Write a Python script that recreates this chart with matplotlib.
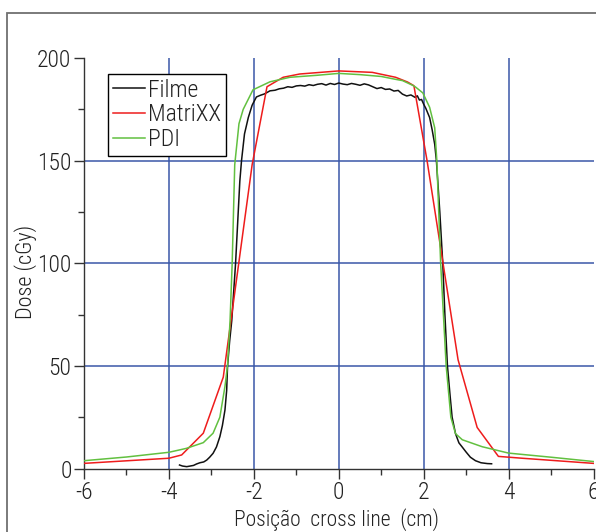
import matplotlib
matplotlib.use("Agg")
import matplotlib.pyplot as plt
from matplotlib.patches import Rectangle
from matplotlib.ticker import MultipleLocator

plt.rcParams['font.family'] = ['Roboto Condensed', 'DejaVu Sans']
plt.rcParams['font.weight'] = 'light'
plt.rcParams['axes.labelweight'] = 'light'

# ---- data ----
filme_x = [-3.75, -3.68, -3.58, -3.50, -3.42, -3.35, -3.27, -3.18, -3.11, -3.04, -2.96, -2.88,
           -2.80, -2.74, -2.68, -2.64, -2.62, -2.57, -2.52, -2.43, -2.33, -2.29, -2.22, -2.13,
           -2.04, -1.94, -1.85, -1.75, -1.62, -1.5, -1.4, -1.3, -1.2, -1.1, -1.0, -0.9, -0.8,
           -0.7, -0.6, -0.5, -0.4, -0.3, -0.2, -0.1, 0.0, 0.1, 0.2, 0.3, 0.4, 0.5, 0.6, 0.7,
           0.8, 0.9, 1.0, 1.1, 1.2, 1.3, 1.4, 1.5, 1.6, 1.7, 1.8, 1.85, 1.9, 1.95, 2.0, 2.05,
           2.1, 2.14, 2.2, 2.26, 2.3, 2.38, 2.45, 2.5, 2.56, 2.62, 2.67, 2.75, 2.83, 2.91, 3.0,
           3.1, 3.22, 3.35, 3.5, 3.6]
filme_y = [1.7, 1.2, 0.9, 1.2, 1.5, 2.2, 2.8, 3.2, 4.1, 5.5, 7.4, 10.5,
           15.5, 21, 28.5, 38, 49.6, 62, 72, 100, 140, 150, 163, 171,
           177, 181, 181.8, 182.5, 184, 184.3, 185, 185.3, 186, 185.7, 186.4, 186.6, 186.3,
           187.0, 186.6, 187.2, 187.5, 186.8, 187.6, 187.1, 187.8, 187.3, 187.0, 187.6, 187.2, 186.7, 187.4, 186.9,
           186.0, 185.1, 185.6, 184.7, 184.9, 183.9, 184.2, 182.4, 181.5, 182.0, 180.8, 181.6, 179.5, 179.8, 177.5, 175.5,
           173, 171, 165, 158, 150, 125, 100, 75, 50, 36, 25, 17, 12.5, 10.4, 8,
           5.5, 3.8, 2.8, 2.4, 2.3]

matrixx_x = [-6.0, -4.0, -3.7, -3.19, -2.72, -2.04, -1.69, -1.31, -0.92, 0.0, 0.79, 1.34, 1.62,
             1.77, 2.08, 2.81, 3.26, 3.76, 4.32, 6.0]
matrixx_y = [2.5, 5.0, 6.6, 17.2, 44.5, 148, 186, 190.6, 192.2, 193.7, 193.0, 190.6, 188.3,
             186.5, 150, 53, 20, 5.9, 5.0, 2.5]

pdi_x = [-6.0, -5.0, -4.0, -3.59, -3.19, -2.96, -2.8, -2.68, -2.62, -2.56, -2.51, -2.45, -2.35,
         -2.25, -2.02, -1.62, -1.15, -0.5, 0.0, 0.5, 1.0, 1.34, 1.5, 1.73, 1.8, 1.98, 2.14, 2.26,
         2.31, 2.40, 2.53, 2.64, 2.75, 2.91, 3.38, 4.0, 5.0, 6.0]
pdi_y = [3.8, 5.6, 7.9, 9.8, 12.6, 17.2, 25, 40, 50, 72, 100, 148, 168,
         175, 184.5, 188.4, 190.6, 191.6, 192.5, 191.9, 191.0, 189.6, 189.0, 186.8, 186, 183, 176, 166,
         150, 100, 50, 25, 17, 14, 10.6, 7.5, 5.5, 3.4]

x_ticks = [-6, -4, -2, 0, 2, 4, 6]
y_ticks = [0, 50, 100, 150, 200]
grid_x = [-4, -2, 0, 2, 4]
grid_y = [50, 100, 150]

# ---- figure ----
W, H = 596, 532
fig = plt.figure(figsize=(W / 100, H / 100), dpi=100)
ax = fig.add_axes([84 / W, 1 - 468.5 / H, (593.5 - 84) / W, (468.5 - 58) / H])

# outer frame (partly outside the picture)
fig.patches.append(Rectangle((7 / W, -0.2), 1.3, 0.2 + (1 - 13 / H), transform=fig.transFigure,
                             fill=False, edgecolor='#707070', linewidth=1.3, clip_on=False))

grid_col = '#3a57a8'
for gx in grid_x:
    ax.axvline(gx, color=grid_col, lw=1.1, zorder=1)
for gy in grid_y:
    ax.axhline(gy, color=grid_col, lw=1.1, zorder=1)

ax.plot(filme_x, filme_y, color='#111111', lw=1.1, label='Filme', zorder=3)
ax.plot(matrixx_x, matrixx_y, color='#ee1c1c', lw=1.1, label='MatriXX', zorder=3)
ax.plot(pdi_x, pdi_y, color='#62c040', lw=1.1, label='PDI', zorder=3)

ax.set_xlim(-6, 6)
ax.set_ylim(0, 200)
ax.set_xticks(x_ticks)
ax.set_yticks(y_ticks)
ax.set_xticklabels([str(v) for v in x_ticks])
ax.set_yticklabels([str(v) for v in y_ticks])
ax.xaxis.set_minor_locator(MultipleLocator(1))
ax.yaxis.set_minor_locator(MultipleLocator(25))

for s in ['top', 'right']:
    ax.spines[s].set_visible(False)
for s in ['left', 'bottom']:
    ax.spines[s].set_color('#333333')
    ax.spines[s].set_linewidth(1.0)

tick_col = '#333333'
ax.tick_params(which='major', direction='out', length=7, width=1.0, color=tick_col,
               labelsize=17, labelcolor='#222222', pad=2)
ax.tick_params(which='minor', direction='out', length=4, width=1.0, color=tick_col)

ax.set_xlabel('Posição  cross line  (cm)', fontsize=15.5, color='#222222', fontweight='light')
ax.xaxis.set_label_coords((336 - 84) / 509.5, -(531 - 468.5) / 410.5)
ax.xaxis.label.set_va('bottom')
ax.set_ylabel('Dose (cGy)', fontsize=16, color='#222222', fontweight='light')
ax.yaxis.set_label_coords(-(84 - 37) / 509.5, (468.5 - 272) / 410.5)

leg = ax.legend(loc='upper left', bbox_to_anchor=((108 - 84) / 509.5, (468.5 - 74) / 410.5),
                borderaxespad=0, fontsize=17, frameon=True, fancybox=False,
                edgecolor='black', framealpha=1, handlelength=1.35, handletextpad=0.15,
                labelspacing=0.07, borderpad=0.2)
leg.get_frame().set_linewidth(1.0)
for t in leg.get_texts():
    t.set_color('#222222')

fig.savefig('out.png', dpi=100)
